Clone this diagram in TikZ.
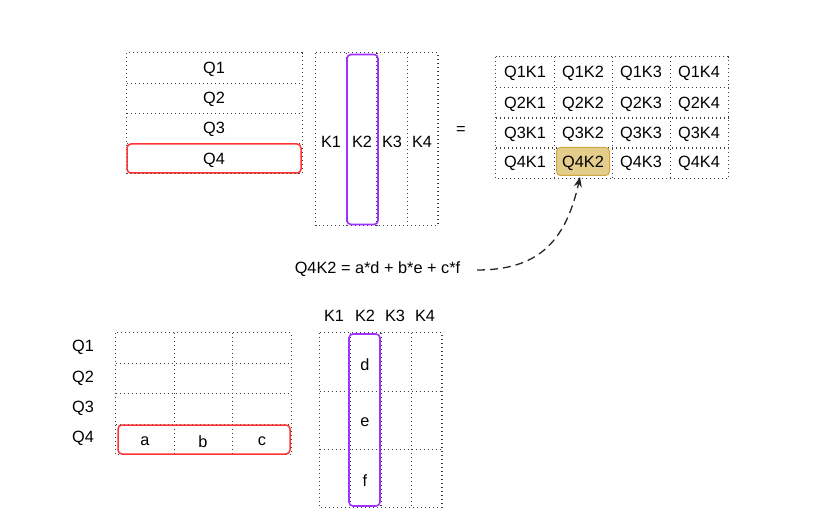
\documentclass[tikz,border=0pt]{standalone}
\usepackage{fontspec}
\setmainfont{Liberation Sans}
\usetikzlibrary{arrows.meta}
\definecolor{redbox}{RGB}{255,51,51}
\definecolor{purplebox}{RGB}{160,50,255}
\definecolor{hlfill}{RGB}{228,204,138}
\definecolor{hldraw}{RGB}{205,168,66}
\tikzset{
  cellbox/.style={inner sep=0pt, minimum width=#1},
  cellbox/.default=30pt,
  gridline/.style={draw=black!75, dash pattern=on 1.2pt off 2.8pt, line width=1.2pt},
  redsel/.style={draw=redbox, line width=1.5pt, rounded corners=4pt, inner sep=0pt},
  purplesel/.style={draw=purplebox, line width=1.6pt, rounded corners=4pt, inner sep=0pt},
  hlbox/.style={draw=hldraw, fill=hlfill, line width=1pt, rounded corners=4pt, inner sep=0pt},
  lbl/.style={inner sep=0pt, yshift=-1.5pt, font=\fontsize{16.3}{18}\selectfont},
  dasharrow/.style={draw=black!85, line width=1.3pt, dash pattern=on 8pt off 5pt, -{Stealth[length=10pt,width=8pt]}}
}
\begin{document}
\begin{tikzpicture}[x=1pt,y=-1pt]
\useasboundingbox (0,0) rectangle (832,521);
\fill[white] (0,0) rectangle (832,521);

% ---------- top Q matrix ----------
\foreach \i/\y in {1/68,2/98,3/128,4/158}{
  \node[cellbox=175pt, minimum height=30pt] (q\i) at (214.5,\y) {};
}
\draw[gridline] (q1.north west) rectangle (q4.south east);
\foreach \i in {1,2,3}{ \draw[gridline] (q\i.south west) -- (q\i.south east); }
\node[redsel, minimum width=174pt, minimum height=29pt] (qsel) at (214,158.5) {};
\foreach \i/\y in {1/68,2/98,3/128,4/159}{
  \node[lbl] (ql\i) at (214,\y) {Q\i};
}

% ---------- top K matrix ----------
\foreach \i/\x in {1/331,2/361.5,3/392,4/422.5}{
  \node[cellbox=30.5pt, minimum height=172pt] (k\i) at (\x,139) {};
}
\draw[gridline] (k1.north west) rectangle (k4.south east);
\foreach \i in {1,2,3}{ \draw[gridline] (k\i.north east) -- (k\i.south east); }
\node[purplesel, minimum width=31pt, minimum height=170pt] (ksel) at (362.5,139.5) {};
\foreach \i/\x in {1/331,2/362,3/392,4/422}{
  \node[lbl] (kl\i) at (\x,140) {K\i};
}

\node[lbl] (eq) at (461,129) {=};

% ---------- result matrix ----------
\foreach \r/\y in {1/72,2/102.5,3/132.5,4/163}{
  \foreach \c/\x in {1/525,2/583,3/641,4/699}{
    \node[cellbox=58pt, minimum height=30.5pt] (r\r\c) at (\x,\y) {};
  }
}
\draw[gridline] (r11.north west) rectangle (r44.south east);
\foreach \i in {1,2,3}{
  \draw[gridline] (r\i1.south west) -- (r\i4.south east);
  \draw[gridline] (r1\i.north east) -- (r4\i.south east);
}
\node[hlbox, minimum width=53pt, minimum height=28pt] (hl) at (583,161.5) {};
\foreach \r/\y in {1/72,2/102.5,3/132.5,4/162}{
  \foreach \c/\x in {1/525,2/583,3/641,4/699}{
    \node[lbl] (rl\r\c) at (\x,\y) {Q\r K\c};
  }
}

% ---------- formula and arrow ----------
\node[lbl] (formula) at (377.5,268) {Q4K2 = a*d + b*e + c*f};
\coordinate (fs) at (477,270);
\coordinate (fe) at (580,177);
\draw[dasharrow] (fs) .. controls (535,270) and (565,245) .. (fe);

% ---------- bottom Q grid ----------
\foreach \r/\y in {1/348,2/378.5,3/409,4/439}{
  \foreach \c/\x in {1/145,2/203.5,3/262}{
    \node[cellbox=58.3pt, minimum height=30.3pt] (bq\r\c) at (\x,\y) {};
  }
}
\draw[gridline] (bq11.north west) rectangle (bq43.south east);
\foreach \i in {1,2,3}{ \draw[gridline] (bq\i1.south west) -- (bq\i3.south east); }
\foreach \i in {1,2}{ \draw[gridline] (bq1\i.north east) -- (bq4\i.south east); }
\node[redsel, minimum width=172pt, minimum height=29pt] (bqsel) at (204,439.5) {};
\foreach \i/\y in {1/346,2/377,3/407,4/437}{
  \node[lbl] (bql\i) at (83,\y) {Q\i};
}
\node[lbl] (la) at (145,440) {a};
\node[lbl] (lb) at (203,440) {b};
\node[lbl] (lc) at (262,440) {c};

% ---------- bottom K grid ----------
\foreach \r/\y in {1/362,2/420,3/478}{
  \foreach \c/\x in {1/335,2/365.5,3/396,4/426.5}{
    \node[cellbox=30.5pt, minimum height=58pt] (bk\r\c) at (\x,\y) {};
  }
}
\draw[gridline] (bk11.north west) rectangle (bk34.south east);
\foreach \i in {1,2}{ \draw[gridline] (bk\i1.south west) -- (bk\i4.south east); }
\foreach \i in {1,2,3}{ \draw[gridline] (bk1\i.north east) -- (bk3\i.south east); }
\node[purplesel, minimum width=31pt, minimum height=172pt] (bksel) at (364.5,420) {};
\foreach \i/\x in {1/334,2/365,3/395,4/425}{
  \node[lbl] (bkl\i) at (\x,314) {K\i};
}
\node[lbl] (ld) at (365,363) {d};
\node[lbl] (le) at (365,421) {e};
\node[lbl] (lf) at (365,479) {f};
\end{tikzpicture}
\end{document}
